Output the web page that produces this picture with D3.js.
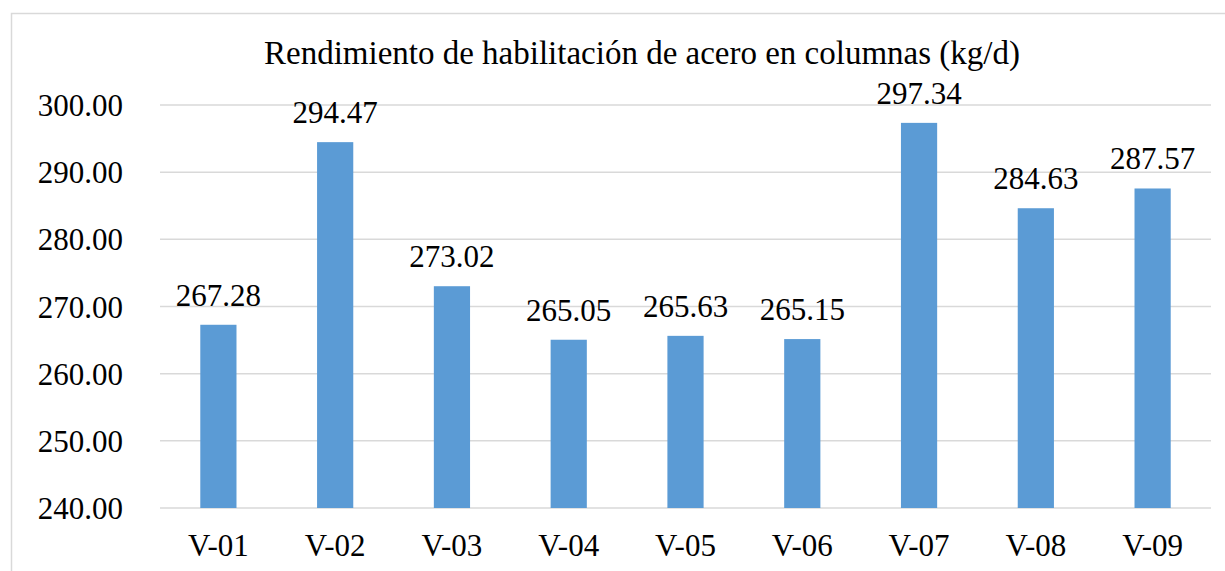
<!DOCTYPE html>
<html>
<head>
<meta charset="utf-8">
<script src="https://cdn.jsdelivr.net/npm/d3@7"></script>
<style>
  body { margin: 0; background: #fff; }
</style>
</head>
<body>
<svg id="chart"></svg>
<script>
// chart data
var categories = ["V-01", "V-02", "V-03", "V-04", "V-05", "V-06", "V-07", "V-08", "V-09"];
var values = [267.28, 294.47, 273.02, 265.05, 265.63, 265.15, 297.34, 284.63, 287.57];
var yTicks = [240, 250, 260, 270, 280, 290, 300];
var title = "Rendimiento de habilitación de acero en columnas (kg/d)";

var w = 1225;
var h = 571;
var serif = "'Liberation Serif', 'Times New Roman', 'DejaVu Serif', serif";

var svg = d3.select("#chart")
    .attr("width", w)
    .attr("height", h);

// outer border (cropped at right and bottom like the picture)
svg.append("rect")
    .attr("x", 11.5)
    .attr("y", 13.5)
    .attr("width", 1230)
    .attr("height", 600)
    .attr("fill", "none")
    .attr("stroke", "#d9d9d9")
    .attr("stroke-width", 1.5);

var xScale = d3.scaleBand()
    .domain(categories)
    .range([160, 1211])
    .paddingInner(0.69)
    .paddingOuter(0.345);

var yScale = d3.scaleLinear()
    .domain([240, 300])
    .range([508, 105]);

// gridlines
svg.append("g")
    .selectAll("line")
    .data(yTicks)
    .enter()
    .append("line")
    .attr("x1", 160)
    .attr("x2", 1211)
    .attr("y1", function(d) { return yScale(d); })
    .attr("y2", function(d) { return yScale(d); })
    .attr("stroke", "#d9d9d9")
    .attr("stroke-width", 1.5);

// y axis labels
var yAxis = d3.axisLeft(yScale)
    .tickValues(yTicks)
    .tickFormat(d3.format(".2f"))
    .tickSize(0)
    .tickPadding(0);

var gy = svg.append("g")
    .attr("transform", "translate(123,0)")
    .call(yAxis)
    .attr("font-family", serif);
gy.select(".domain").remove();
gy.selectAll("text")
    .style("font-family", serif)
    .style("font-size", "31px")
    .attr("fill", "#000")
    .attr("dy", "0.34em");

// x axis labels
var xAxis = d3.axisBottom(xScale)
    .tickSize(0)
    .tickPadding(0);

var gx = svg.append("g")
    .attr("transform", "translate(0,508)")
    .call(xAxis)
    .attr("font-family", serif);
gx.select(".domain").remove();
gx.selectAll("text")
    .style("font-family", serif)
    .style("font-size", "31px")
    .attr("fill", "#000")
    .attr("y", 48)
    .attr("dy", 0);

// bars
svg.selectAll(".bar")
    .data(values)
    .enter()
    .append("rect")
    .attr("class", "bar")
    .attr("x", function(d, i) { return xScale(categories[i]); })
    .attr("y", function(d) { return yScale(d); })
    .attr("width", xScale.bandwidth())
    .attr("height", function(d) { return yScale(240) - yScale(d); })
    .attr("fill", "#5b9bd5");

// value labels
svg.selectAll(".val")
    .data(values)
    .enter()
    .append("text")
    .attr("class", "val")
    .attr("text-anchor", "middle")
    .attr("x", function(d, i) { return xScale(categories[i]) + xScale.bandwidth() / 2; })
    .attr("y", function(d) { return yScale(d) - 19; })
    .style("font-family", serif)
    .style("font-size", "31px")
    .text(function(d) { return d.toFixed(2); });

// title
svg.append("text")
    .attr("x", 642)
    .attr("y", 64)
    .attr("text-anchor", "middle")
    .style("font-family", serif)
    .style("font-size", "33px")
    .text(title);
</script>
</body>
</html>
